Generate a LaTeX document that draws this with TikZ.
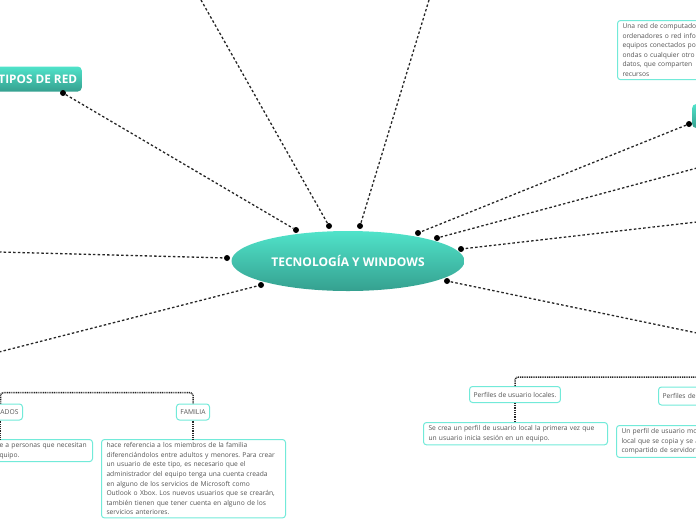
\documentclass[tikz,border=0pt]{standalone}
\usepackage{fontspec}
\setmainfont{Open Sans}
\frenchspacing
\usetikzlibrary{shapes.geometric}
\definecolor{tealtop}{HTML}{50E3CA}
\definecolor{tealbot}{HTML}{35A08F}
\definecolor{edge}{HTML}{72EAD9}
\definecolor{txt}{HTML}{555555}
\begin{document}
\begin{tikzpicture}[x=1pt, y=-1pt,
  font=\fontsize{6.7}{9.6}\selectfont,
    central/.style={ellipse, minimum width=233pt, minimum height=60pt, inner sep=0pt,
                top color=tealtop, bottom color=tealbot, text=white,
                font=\fontsize{12}{14}\selectfont\bfseries},
    main/.style={rounded corners=4pt, minimum height=25pt, inner sep=0pt,
                top color=tealtop, bottom color=tealbot, text=white,
                font=\fontsize{11.8}{14}\selectfont\bfseries},
    tag/.style={draw=edge, line width=1pt, rounded corners=3pt, fill=white, text=txt,
                minimum height=16pt, inner xsep=4pt, inner ysep=2pt},
    leaf/.style={draw=edge, line width=1pt, rounded corners=3pt, fill=white, text=txt,
                inner xsep=5pt, inner ysep=3pt, align=left},
    link/.style={draw=black!85, line width=1.3pt, dash pattern=on 2.5pt off 2.2pt},
    tree/.style={draw=black!85, line width=1.5pt, dash pattern=on 1pt off 0.8pt,
                rounded corners=3pt},
    dot/.style={circle, fill=black, inner sep=0pt, minimum size=6pt},
]
\useasboundingbox (0,0) rectangle (696,520);
% centre and main topics
\node[central] (tw) at (348,261) {TECNOLOGÍA Y WINDOWS};
\node[main, anchor=east, minimum width=88pt] (tipos) at (82,79) {TIPOS DE RED};
\node[main, anchor=west, minimum width=20pt, minimum height=24pt] (side) at (692,116) {};
\node[leaf, anchor=north west, text width=95pt] (def) at (617,20)
  {Una red de computado\\ordenadores o red info\\equipos conectados po\\ondas o cualquier otro\\datos, que comparten\\recursos};
% end dots
\node[dot] (d0) at (63,93) {};
\node[dot] (d1) at (296,230) {};
\node[dot] (d2) at (329,226) {};
\node[dot] (d3) at (360,226) {};
\node[dot] (d4) at (689,124) {};
\node[dot] (d5) at (418,233) {};
\node[dot] (d6) at (437,238) {};
\node[dot] (d7) at (461,249) {};
\node[dot] (d8) at (447,281) {};
\node[dot] (d9) at (227,258) {};
\node[dot] (d10) at (261,285) {};
\coordinate (f2) at (201,0);
\coordinate (f3) at (429,0);
\coordinate (f6) at (697,168);
\coordinate (f7) at (697,222);
\coordinate (f8) at (697,333);
\coordinate (f9) at (-1,252);
\coordinate (f10) at (-1,352);
\draw[link] (d0) -- (d1);
\draw[link] (f2) -- (d2);
\draw[link] (f3) -- (d3);
\draw[link] (d4) -- (d5);
\draw[link] (f6) -- (d6);
\draw[link] (f7) -- (d7);
\draw[link] (f8) -- (d8);
\draw[link] (f9) -- (d9);
\draw[link] (f10) -- (d10);
% user types, bottom left
\node[tag, anchor=east, text width=36pt, align=right] (inv) at (23,412) {ADOS};
\node[leaf, anchor=north east, text width=88pt] (invtxt) at (93,439)
  {e a personas que necesitan\\quipo.};
\node[tag] (fam) at (193,412) {FAMILIA};
\node[leaf, anchor=north west, text width=174pt] (famtxt) at (101,439)
  {hace referencia a los miembros de la familia\\diferenciándolos entre adultos y menores. Para crear\\un usuario de este tipo, es necesario que el\\administrador del equipo tenga una cuenta creada\\en alguno de los servicios de Microsoft como\\Outlook o Xbox. Los nuevos usuarios que se crearán,\\también tienen que tener cuenta en alguno de los\\servicios anteriores.};
\draw[tree] (inv.north) -- ++(0,-11) -| (fam.north);
\draw[tree] (inv.south) -- (inv.south |- invtxt.north);
\draw[tree] (fam.south) -- (fam.south |- famtxt.north);
% profiles, bottom right
\node[tag] (loc) at (515,394.5) {Perfiles de usuario locales.};
\node[leaf, anchor=north west, text width=174pt] (loctxt) at (423,422)
  {Se crea un perfil de usuario local la primera vez que\\un usuario inicia sesión en un equipo.};
\node[tag, anchor=west, minimum height=18pt, text width=60pt, align=left] (mov) at (658,396) {Perfiles de};
\node[leaf, anchor=north west, text width=100pt] (movtxt) at (616,425)
  {Un perfil de usuario mo\\local que se copia y se a\\compartido de servidor};
\coordinate (rt) at (700,377);
\draw[tree] (loc.north) |- (rt);
\draw[tree] (loc.south) -- (loc.south |- loctxt.north);
\end{tikzpicture}
\end{document}
